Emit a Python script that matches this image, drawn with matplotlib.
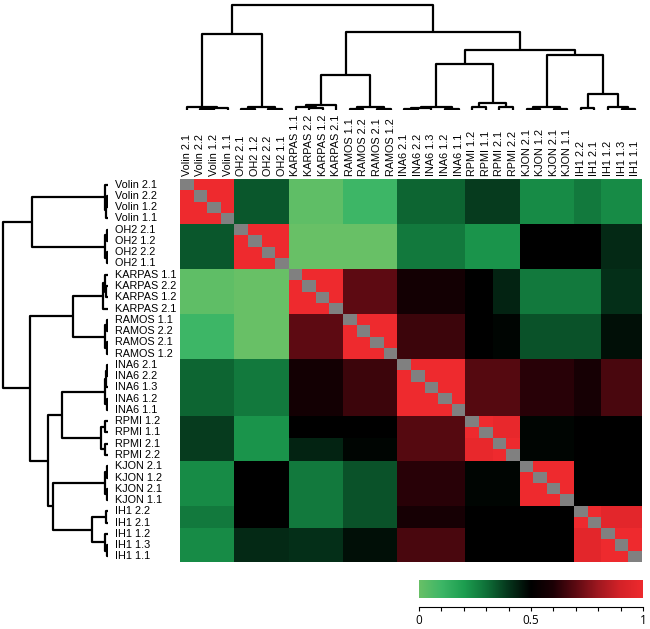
import numpy as np
import matplotlib
matplotlib.use("Agg")
import matplotlib.pyplot as plt
from matplotlib.colors import LinearSegmentedColormap
from matplotlib.transforms import blended_transform_factory

# sample labels, same order for rows and columns
labels = ["Volin 2.1", "Volin 2.2", "Volin 1.2", "Volin 1.1",
          "OH2 2.1", "OH2 1.2", "OH2 2.2", "OH2 1.1",
          "KARPAS 1.1", "KARPAS 2.2", "KARPAS 1.2", "KARPAS 2.1",
          "RAMOS 1.1", "RAMOS 2.2", "RAMOS 2.1", "RAMOS 1.2",
          "INA6 2.1", "INA6 2.2", "INA6 1.3", "INA6 1.2", "INA6 1.1",
          "RPMI 1.2", "RPMI 1.1", "RPMI 2.1", "RPMI 2.2",
          "KJON 2.1", "KJON 1.2", "KJON 2.1", "KJON 1.1",
          "IH1 2.2", "IH1 2.1", "IH1 1.2", "IH1 1.3", "IH1 1.1"]

# blocks of samples with similar correlation
group_sizes = [4, 4, 4, 4, 5, 2, 2, 4, 2, 3]
# upper triangle of block correlations (row i, columns i..end)
block_values = [
    [1.00, 0.34, 0.02, 0.10, 0.32, 0.39, 0.39, 0.24, 0.28, 0.24],
    [1.00, 0.00, 0.00, 0.28, 0.22, 0.22, 0.50, 0.50, 0.42],
    [1.00, 0.70, 0.57, 0.50, 0.43, 0.28, 0.28, 0.41],
    [1.00, 0.65, 0.50, 0.49, 0.35, 0.35, 0.47],
    [1.00, 0.69, 0.69, 0.62, 0.58, 0.67],
    [1.00, 0.98, 0.49, 0.50, 0.50],
    [1.00, 0.49, 0.50, 0.50],
    [1.00, 0.50, 0.50],
    [1.00, 0.96],
    [1.00],
]

# clustering tree: (height, left, right), leaves are label indices
tree = (105,
        (76, (3, 0, (2, (1, 1, 2), 3)), (3, (1, 4, 5), (1, 6, 7))),
        (78,
         (35, (5, (3, 8, (2, 9, 10)), 11), (3, (1, 12, 13), (1, 14, 15))),
         (60,
          (46, (3, (2, (1, 16, 17), 18), (1, 19, 20)),
           (7, (3, 21, 22), (3, 23, 24))),
          (55, (3, (1, 25, 26), (1, 27, 28)),
           (16, (2, 29, 30), (3, 31, (1, 32, 33)))))))

colorbar_ticks = [0, 0.5, 1]

# build full matrix
ng = len(group_sizes)
B = np.zeros((ng, ng))
for i, row in enumerate(block_values):
    for k, v in enumerate(row):
        B[i, i + k] = v
        B[i + k, i] = v
idx = np.repeat(np.arange(ng), group_sizes)
M = B[np.ix_(idx, idx)].astype(float)
np.fill_diagonal(M, np.nan)
M = np.ma.masked_invalid(M)

cmap = LinearSegmentedColormap.from_list("gkr", [
    (0.0, "#68c066"), (0.1, "#3db666"), (0.2, "#1d9e50"), (0.3, "#0f7038"),
    (0.4, "#05341b"), (0.5, "#000000"), (0.6, "#1c0005"), (0.7, "#5c0a12"),
    (0.8, "#9e1820"), (0.9, "#d42228"), (1.0, "#ee2a2e")])
cmap.set_bad("#808080")


def dendro_segments(node):
    if isinstance(node, int):
        return node, 0.0, []
    h, a, b = node
    xa, ha, sa = dendro_segments(a)
    xb, hb, sb = dendro_segments(b)
    seg = [([xa, xa, xb, xb], [ha, h, h, hb])]
    return (xa + xb) / 2, h, sa + sb + seg


W, H = 650, 629
fig = plt.figure(figsize=(W / 100, H / 100), dpi=100)


def px_axes(x0, y0, x1, y1):
    return fig.add_axes([x0 / W, 1 - y1 / H, (x1 - x0) / W, (y1 - y0) / H])


n = len(labels)
hx0, hy0, hx1, hy1 = 180, 179, 642, 562

ax = px_axes(hx0, hy0, hx1, hy1)
ax.imshow(M, cmap=cmap, vmin=0, vmax=1, aspect="auto", interpolation="nearest")
ax.set_xticks([])
ax.set_yticks([])
for s in ax.spines.values():
    s.set_visible(False)

lab_font = dict(family=["Liberation Sans", "DejaVu Sans"], fontsize=7.8)
tr_row = blended_transform_factory(fig.transFigure, ax.transData)
tr_col = blended_transform_factory(ax.transData, fig.transFigure)
for i, lab in enumerate(labels):
    ax.text(115 / W, i, lab, transform=tr_row, ha="left", va="center", **lab_font)
    ax.text(i, 1 - 176 / H, lab, transform=tr_col, rotation=90,
            ha="center", va="bottom", **lab_font)

_, _, segs = dendro_segments(tree)

ax_top = px_axes(hx0, 0, hx1, 110)
for xs, ys in segs:
    ax_top.plot(xs, ys, color="black", lw=1.6, solid_capstyle="butt")
ax_top.set_xlim(-0.5, n - 0.5)
ax_top.set_ylim(0, 110)
ax_top.axis("off")

ax_left = px_axes(0, hy0, 108, hy1)
for xs, ys in segs:
    ax_left.plot(ys, xs, color="black", lw=1.6, solid_capstyle="butt")
ax_left.set_ylim(n - 0.5, -0.5)
ax_left.set_xlim(108, 0)
ax_left.axis("off")

# colour scale
ax_cb = px_axes(419, 580, 643, 598)
ax_cb.imshow(np.linspace(0, 1, 256)[None, :], cmap=cmap, aspect="auto",
             extent=[0, 1, 0, 1])
ax_cb.axis("off")

ax_sc = px_axes(419, 596, 643, 607)
ax_sc.set_xlim(0, 1)
ax_sc.set_ylim(0, 1)
ax_sc.patch.set_visible(False)
for k in ["top", "left", "right"]:
    ax_sc.spines[k].set_visible(False)
ax_sc.spines["bottom"].set_linewidth(0.8)
ax_sc.set_yticks([])
scale_ticks = np.round(np.arange(0, 1.01, 0.1), 1)
ax_sc.set_xticks(scale_ticks)
ax_sc.set_xticklabels([f"{t:g}" if t in colorbar_ticks else "" for t in scale_ticks],
                      family=["Open Sans", "DejaVu Sans"], fontsize=8.5)
ax_sc.tick_params(axis="x", direction="out", length=3, width=0.8, pad=2)

fig.savefig("out.png", dpi=100)
